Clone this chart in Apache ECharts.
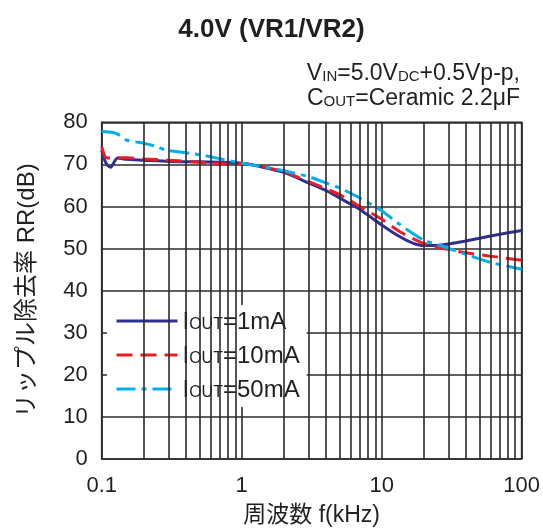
<!DOCTYPE html>
<html>
<head>
<meta charset="utf-8">
<script src="https://cdn.jsdelivr.net/npm/echarts@6/dist/echarts.min.js"></script>
<style>
  html, body { margin: 0; padding: 0; background: #fff; }
</style>
</head>
<body>
<div id="rrChart" style="width: 543px;height: 532px;"></div>
<script>
// frequency (kHz) / ripple rejection (dB)
const freq1mA = [0.1, 0.105, 0.11, 0.116, 0.125, 0.13, 0.15, 0.2, 0.3, 0.5, 1, 2, 3, 4, 5, 7, 10, 13.5, 16.7, 20, 26, 40, 60, 100];
const rr1mA = [73.4, 71.0, 69.8, 69.3, 71.0, 71.5, 71.2, 71.0, 70.7, 70.6, 70.3, 68.1, 65.6, 63.8, 62.0, 59.3, 55.6, 52.8, 51.3, 50.7, 50.8, 51.8, 53.0, 54.3];
const freq10mA = [0.1, 0.105, 0.11, 0.15, 0.2, 0.3, 0.5, 0.8, 1, 2, 3, 4, 5, 7, 10, 13.5, 20, 30, 40, 60, 100];
const rr10mA = [74.2, 72.0, 71.5, 71.6, 71.3, 71.0, 70.5, 70.1, 70.2, 68.3, 65.9, 64.2, 62.8, 60.0, 57.0, 54.0, 51.2, 49.8, 49.0, 48.2, 47.2];
const freq50mA = [0.1, 0.12, 0.13, 0.15, 0.2, 0.25, 0.28, 0.3, 0.5, 1, 2, 3, 4, 5, 7, 10, 13.5, 20, 27, 40, 60, 100];
const rr50mA = [77.8, 77.6, 77.2, 75.8, 75.0, 74.2, 73.5, 73.3, 72.3, 70.3, 68.5, 67.1, 65.6, 64.4, 62.0, 59.0, 55.7, 52.0, 50.6, 48.6, 46.7, 45.1];

const seriesNames = ['IOUT=1mA', 'IOUT=10mA', 'IOUT=50mA'];
const xTickLabels = ['0.1', '1', '10', '100'];
const minorFreqs = [0.2, 0.3, 0.4, 0.5, 0.6, 0.7, 0.8, 0.9, 2, 3, 4, 5, 6, 7, 8, 9, 20, 30, 40, 50, 60, 70, 80, 90];

const FONT = "'Liberation Sans', Arial, 'Noto Sans CJK JP', sans-serif";
const TEXT_COLOR = '#231f20';
const GRID_COLOR = '#2b2b2b';

function pairs(xs, ys) {
  return xs.map((x, i) => [x, ys[i]]);
}

// rich styles: normal text + small caps part (IN, DC, OUT)
function richPair(big, small, lh) {
  return {
    a: {fontSize: big, fill: TEXT_COLOR, color: TEXT_COLOR, fontFamily: FONT, fontWeight: 'normal', lineHeight: lh, verticalAlign: 'bottom'},
    s: {fontSize: small, fill: TEXT_COLOR, color: TEXT_COLOR, fontFamily: FONT, fontWeight: 'normal', lineHeight: lh, verticalAlign: 'bottom', padding: [0, 0, 1, 0]},
  };
}

const chart = echarts.init(document.getElementById('rrChart'));

let option = {
  animation: false,
  textStyle: {fontFamily: FONT, color: TEXT_COLOR},
  graphic: [
    {
      type: 'text',
      x: 271.5,
      y: 30,
      style: {
        text: '4.0V (VR1/VR2)',
        font: "bold 26px " + FONT,
        fill: TEXT_COLOR,
        align: 'center',
        verticalAlign: 'middle',
      }
    },
    {
      type: 'text',
      x: 520,
      y: 73,
      style: {
        text: '{a|V}{s|IN}{a|=5.0V}{s|DC}{a|+0.5Vp-p,}',
        align: 'right',
        verticalAlign: 'middle',
        rich: richPair(23, 15, 25),
      }
    },
    {
      type: 'text',
      x: 520,
      y: 98,
      style: {
        text: '{a|C}{s|OUT}{a|=Ceramic 2.2μF}',
        align: 'right',
        verticalAlign: 'middle',
        rich: richPair(23, 15, 25),
      }
    },
  ],
  legend: {
    orient: 'vertical',
    left: 107,
    top: 305,
    data: seriesNames,
    backgroundColor: '#ffffff',
    padding: [5, 7, 5, 8],
    itemWidth: 61,
    itemHeight: 14,
    itemGap: 10,
    itemStyle: {opacity: 0, borderWidth: 0},
    lineStyle: {width: 3},
    formatter: function (name) {
      return '{a|I}{s|OUT}{a|' + name.slice(4) + '}';
    },
    textStyle: {
      rich: richPair(24, 16, 26),
    },
  },
  grid: {
    left: 101.7,
    right: 21,
    top: 122.3,
    bottom: 71.3,
    show: true,
    borderColor: GRID_COLOR,
    borderWidth: 1.6,
  },
  xAxis: {
    type: 'log',
    logBase: 10,
    min: 0.1,
    max: 100,
    name: '周波数 f(kHz)',
    nameLocation: 'middle',
    nameGap: 45,
    nameTextStyle: {fontSize: 23, color: TEXT_COLOR, fontFamily: FONT},
    axisLine: {show: false},
    axisTick: {show: false},
    axisLabel: {
      fontSize: 22,
      color: TEXT_COLOR,
      margin: 16,
      formatter: function (value) {
        const idx = Math.round(Math.log10(value) + 1);
        return xTickLabels[idx] || '';
      }
    },
    splitLine: {show: true, lineStyle: {color: GRID_COLOR, width: 1.6}},
  },
  yAxis: {
    type: 'value',
    min: 0,
    max: 80,
    interval: 10,
    name: 'リップル除去率 RR(dB)',
    nameLocation: 'middle',
    nameGap: 62,
    nameTextStyle: {fontSize: 24, color: TEXT_COLOR, fontFamily: FONT},
    axisLine: {show: false},
    axisTick: {show: false},
    axisLabel: {fontSize: 22, color: TEXT_COLOR, margin: 14},
    splitLine: {show: true, lineStyle: {color: GRID_COLOR, width: 1.6}},
  },
  series: [
    {
      // holds the minor vertical grid lines only
      name: 'grid',
      type: 'line',
      data: [],
      silent: true,
      markLine: {
        silent: true,
        symbol: 'none',
        label: {show: false},
        lineStyle: {color: GRID_COLOR, width: 1.6, type: 'solid'},
        data: minorFreqs.map(f => ({xAxis: f})),
      },
    },
    {
      name: seriesNames[0],
      type: 'line',
      data: pairs(freq1mA, rr1mA),
      smooth: 0.2,
      symbol: 'none',
      color: '#2e3192',
      lineStyle: {color: '#2e3192', width: 3},
    },
    {
      name: seriesNames[1],
      type: 'line',
      data: pairs(freq10mA, rr10mA),
      smooth: 0.2,
      symbol: 'none',
      color: '#ed1c24',
      lineStyle: {color: '#ed1c24', width: 3, type: [16, 8]},
    },
    {
      name: seriesNames[2],
      type: 'line',
      data: pairs(freq50mA, rr50mA),
      smooth: 0.2,
      symbol: 'none',
      color: '#00aeef',
      lineStyle: {color: '#00aeef', width: 3, type: [19, 6, 5, 6]},
    },
  ]
};

chart.setOption(option);
</script>
</body>
</html>
